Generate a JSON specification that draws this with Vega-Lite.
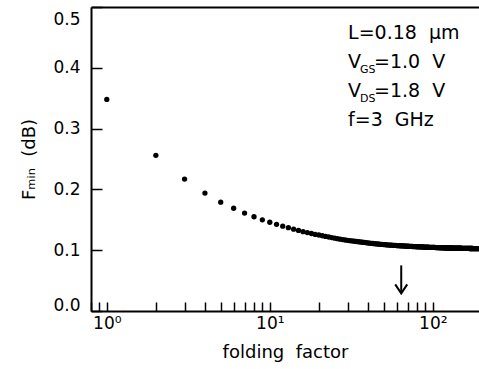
{
  "$schema": "https://vega.github.io/schema/vega-lite/v6.json",
  "width": 388,
  "height": 304,
  "autosize": "none",
  "padding": {"left": 91, "top": 7, "right": 0, "bottom": 58},
  "background": "white",
  "config": {
    "view": {"stroke": null},
    "font": "DejaVu Sans",
    "axis": {"grid": false, "labelColor": "black", "tickColor": "black", "domainColor": "black", "titleColor": "black", "labelFont": "DejaVu Sans", "titleFont": "DejaVu Sans", "titleFontWeight": "normal"}
  },
  "resolve": {"axis": {"x": "independent", "y": "independent"}},
  "data": {"values": [
    {"n":1,"F":0.348},{"n":2,"F":0.256},{"n":3,"F":0.217},{"n":4,"F":0.194},{"n":5,"F":0.179},
    {"n":6,"F":0.169},{"n":7,"F":0.161},{"n":8,"F":0.155},{"n":9,"F":0.150},{"n":10,"F":0.146},
    {"n":11,"F":0.1425},{"n":12,"F":0.1395},{"n":13,"F":0.137},{"n":14,"F":0.1345},{"n":15,"F":0.1325},
    {"n":16,"F":0.1305},{"n":17,"F":0.129},{"n":18,"F":0.1275},{"n":19,"F":0.126},{"n":20,"F":0.125},
    {"n":21,"F":0.1238},{"n":22,"F":0.1227},{"n":23,"F":0.1217},{"n":24,"F":0.1207},{"n":25,"F":0.1198},
    {"n":26,"F":0.119},{"n":27,"F":0.1182},{"n":28,"F":0.1175},{"n":29,"F":0.1168},{"n":30,"F":0.1162},
    {"n":31,"F":0.1157},{"n":32,"F":0.1152},{"n":33,"F":0.1147},{"n":34,"F":0.1143},{"n":35,"F":0.1139},
    {"n":36,"F":0.1135},{"n":37,"F":0.1131},{"n":38,"F":0.1127},{"n":39,"F":0.1123},{"n":40,"F":0.1119},
    {"n":41,"F":0.1116},{"n":42,"F":0.1113},{"n":43,"F":0.111},{"n":44,"F":0.1107},{"n":45,"F":0.1104},
    {"n":46,"F":0.1102},{"n":47,"F":0.1099},{"n":48,"F":0.1097},{"n":49,"F":0.1095},{"n":50,"F":0.1093},
    {"n":51,"F":0.1091},{"n":52,"F":0.1089},{"n":53,"F":0.1087},{"n":54,"F":0.1085},{"n":55,"F":0.1084},
    {"n":56,"F":0.1082},{"n":57,"F":0.1081},{"n":58,"F":0.1079},{"n":59,"F":0.1078},{"n":60,"F":0.1076},
    {"n":61,"F":0.1075},{"n":62,"F":0.1074},{"n":63,"F":0.1073},{"n":64,"F":0.1072},{"n":65,"F":0.1071},
    {"n":66,"F":0.107},{"n":67,"F":0.1069},{"n":68,"F":0.1068},{"n":69,"F":0.1067},{"n":70,"F":0.1066},
    {"n":71,"F":0.1065},{"n":72,"F":0.1064},{"n":73,"F":0.1063},{"n":74,"F":0.1062},{"n":75,"F":0.1061},
    {"n":76,"F":0.106},{"n":77,"F":0.106},{"n":78,"F":0.1059},{"n":79,"F":0.1058},{"n":80,"F":0.1057},
    {"n":81,"F":0.1057},{"n":82,"F":0.1056},{"n":83,"F":0.1055},{"n":84,"F":0.1055},{"n":85,"F":0.1054},
    {"n":86,"F":0.1053},{"n":87,"F":0.1053},{"n":88,"F":0.1052},{"n":89,"F":0.1052},{"n":90,"F":0.1051},
    {"n":91,"F":0.105},{"n":92,"F":0.105},{"n":93,"F":0.1049},{"n":94,"F":0.1049},{"n":95,"F":0.1048},
    {"n":96,"F":0.1048},{"n":97,"F":0.1047},{"n":98,"F":0.1047},{"n":99,"F":0.1046},{"n":100,"F":0.1046},
    {"n":101,"F":0.1045},{"n":102,"F":0.1045},{"n":103,"F":0.1045},{"n":104,"F":0.1044},{"n":105,"F":0.1044},
    {"n":106,"F":0.1043},{"n":107,"F":0.1043},{"n":108,"F":0.1043},{"n":109,"F":0.1042},{"n":110,"F":0.1042},
    {"n":111,"F":0.1042},{"n":112,"F":0.1041},{"n":113,"F":0.1041},{"n":114,"F":0.1041},{"n":115,"F":0.104},
    {"n":116,"F":0.104},{"n":117,"F":0.104},{"n":118,"F":0.1039},{"n":119,"F":0.1039},{"n":120,"F":0.1039},
    {"n":121,"F":0.1038},{"n":122,"F":0.1038},{"n":123,"F":0.1038},{"n":124,"F":0.1038},{"n":125,"F":0.1037},
    {"n":126,"F":0.1037},{"n":127,"F":0.1037},{"n":128,"F":0.1036},{"n":129,"F":0.1036},{"n":130,"F":0.1036},
    {"n":131,"F":0.1036},{"n":132,"F":0.1035},{"n":133,"F":0.1035},{"n":134,"F":0.1035},{"n":135,"F":0.1035},
    {"n":136,"F":0.1034},{"n":137,"F":0.1034},{"n":138,"F":0.1034},{"n":139,"F":0.1034},{"n":140,"F":0.1033},
    {"n":141,"F":0.1033},{"n":142,"F":0.1033},{"n":143,"F":0.1033},{"n":144,"F":0.1033},{"n":145,"F":0.1032},
    {"n":146,"F":0.1032},{"n":147,"F":0.1032},{"n":148,"F":0.1032},{"n":149,"F":0.1032},{"n":150,"F":0.1031},
    {"n":151,"F":0.1031},{"n":152,"F":0.1031},{"n":153,"F":0.1031},{"n":154,"F":0.1031},{"n":155,"F":0.103},
    {"n":156,"F":0.103},{"n":157,"F":0.103},{"n":158,"F":0.103},{"n":159,"F":0.103},{"n":160,"F":0.103},
    {"n":161,"F":0.1029},{"n":162,"F":0.1029},{"n":163,"F":0.1029},{"n":164,"F":0.1029},{"n":165,"F":0.1029},
    {"n":166,"F":0.1029},{"n":167,"F":0.1029},{"n":168,"F":0.1028},{"n":169,"F":0.1028},{"n":170,"F":0.1028},
    {"n":171,"F":0.1028},{"n":172,"F":0.1028},{"n":173,"F":0.1028},{"n":174,"F":0.1028},{"n":175,"F":0.1028},
    {"n":176,"F":0.1027},{"n":177,"F":0.1027},{"n":178,"F":0.1027},{"n":179,"F":0.1027},{"n":180,"F":0.1027},
    {"n":181,"F":0.1027},{"n":182,"F":0.1027},{"n":183,"F":0.1027},{"n":184,"F":0.1027},{"n":185,"F":0.1027},
    {"n":186,"F":0.1026},{"n":187,"F":0.1026},{"n":188,"F":0.1026},{"n":189,"F":0.1026},{"n":190,"F":0.1026}
  ]},
  "layer": [
    {
      "mark": {"type": "circle", "size": 28, "color": "black", "opacity": 1},
      "encoding": {
        "x": {"field": "n", "type": "quantitative",
          "scale": {"type": "log", "domain": [0.8, 192], "nice": false},
          "axis": {"orient": "bottom", "values": [1, 10, 100],
            "labelExpr": "datum.value == 1 ? '10⁰' : datum.value == 10 ? '10¹' : '10²'",
            "labelOverlap": false, "labelFlush": false,
            "ticks": false, "domainWidth": 2,
            "labelFontSize": 17, "labelPadding": 4,
            "title": "folding\u00a0\u00a0factor", "titleFontSize": 18, "titlePadding": 12}},
        "y": {"field": "F", "type": "quantitative",
          "scale": {"domain": [0, 0.5], "nice": false, "zero": false},
          "axis": {"orient": "left", "values": [0, 0.1, 0.2, 0.3, 0.4, 0.5], "format": ".1f",
            "ticks": false, "domainWidth": 2, "labelFlush": false,
            "labelOffset": {"condition": [{"test": "datum.value == 0.5", "value": 12}, {"test": "datum.value == 0", "value": -6}], "value": 0},
            "labelFontSize": 17, "labelPadding": 11,
            "title": "Fₘᵢₙ\u00a0\u00a0(dB)", "titleFontSize": 18, "titlePadding": 14}}
      }
    },
    {
      "mark": {"type": "circle", "opacity": 0},
      "encoding": {
        "x": {"field": "n", "type": "quantitative",
          "axis": {"orient": "top", "offset": -304, "values": [0.8,0.9,1,2,3,4,5,6,7,8,9,10,20,30,40,50,60,70,80,90,100],
            "labelOpacity": 0, "labelFontSize": 1, "domainOpacity": 0, "tickSize": 9, "tickWidth": 1.5, "tickOpacity": 1, "title": ""}},
        "y": {"field": "F", "type": "quantitative",
          "axis": {"orient": "right", "offset": -388, "values": [0, 0.1, 0.2, 0.3, 0.4, 0.5],
            "labelOpacity": 0, "labelFontSize": 1, "domainOpacity": 0, "tickSize": 11, "tickWidth": 1.5, "tickOpacity": 1, "title": ""}}
      }
    },
    {
      "mark": {"type": "circle", "opacity": 0},
      "encoding": {
        "x": {"field": "n", "type": "quantitative",
          "axis": {"orient": "top", "labelOpacity": 0, "labelFontSize": 1, "tickOpacity": 0, "domainWidth": 2, "domainOpacity": 1, "title": ""}},
        "y": {"field": "F", "type": "quantitative", "axis": null}
      }
    },
    {
      "data": {"values": [{}]},
      "mark": {"type": "text", "align": "left", "baseline": "alphabetic", "fontSize": 19, "color": "black"},
      "encoding": {"x": {"datum": 30.2, "axis": null}, "y": {"datum": 0.4468, "axis": null}, "text": {"value": "L=0.18\u00a0\u00a0μm"}}
    },
    {
      "data": {"values": [{}]},
      "mark": {"type": "text", "align": "left", "baseline": "alphabetic", "fontSize": 19, "color": "black"},
      "encoding": {"x": {"datum": 30.2, "axis": null}, "y": {"datum": 0.399, "axis": null}, "text": {"value": "V"}}
    },
    {
      "data": {"values": [{}]},
      "mark": {"type": "text", "align": "left", "baseline": "alphabetic", "fontSize": 11, "color": "black", "dx": 12, "dy": 5},
      "encoding": {"x": {"datum": 30.2, "axis": null}, "y": {"datum": 0.399, "axis": null}, "text": {"value": "GS"}}
    },
    {
      "data": {"values": [{}]},
      "mark": {"type": "text", "align": "left", "baseline": "alphabetic", "fontSize": 19, "color": "black", "dx": 26},
      "encoding": {"x": {"datum": 30.2, "axis": null}, "y": {"datum": 0.399, "axis": null}, "text": {"value": "=1.0\u00a0\u00a0V"}}
    },
    {
      "data": {"values": [{}]},
      "mark": {"type": "text", "align": "left", "baseline": "alphabetic", "fontSize": 19, "color": "black"},
      "encoding": {"x": {"datum": 30.2, "axis": null}, "y": {"datum": 0.3513, "axis": null}, "text": {"value": "V"}}
    },
    {
      "data": {"values": [{}]},
      "mark": {"type": "text", "align": "left", "baseline": "alphabetic", "fontSize": 11, "color": "black", "dx": 12, "dy": 5},
      "encoding": {"x": {"datum": 30.2, "axis": null}, "y": {"datum": 0.3513, "axis": null}, "text": {"value": "DS"}}
    },
    {
      "data": {"values": [{}]},
      "mark": {"type": "text", "align": "left", "baseline": "alphabetic", "fontSize": 19, "color": "black", "dx": 26},
      "encoding": {"x": {"datum": 30.2, "axis": null}, "y": {"datum": 0.3513, "axis": null}, "text": {"value": "=1.8\u00a0\u00a0V"}}
    },
    {
      "data": {"values": [{}]},
      "mark": {"type": "text", "align": "left", "baseline": "alphabetic", "fontSize": 19, "color": "black"},
      "encoding": {"x": {"datum": 30.2, "axis": null}, "y": {"datum": 0.304, "axis": null}, "text": {"value": "f=3\u00a0\u00a0GHz"}}
    },
    {
      "data": {"values": [{}]},
      "mark": {"type": "rule", "color": "black", "strokeWidth": 2},
      "encoding": {"x": {"datum": 64, "axis": null}, "y": {"datum": 0.075, "axis": null}, "y2": {"datum": 0.03}}
    },
    {
      "data": {"values": [{}]},
      "mark": {"type": "point", "shape": "M-1,-1.5L0,0L1,-1.5", "size": 144, "filled": false, "fill": null, "stroke": "black", "strokeWidth": 2, "opacity": 1},
      "encoding": {"x": {"datum": 64, "axis": null}, "y": {"datum": 0.029, "axis": null}}
    }
  ]
}
